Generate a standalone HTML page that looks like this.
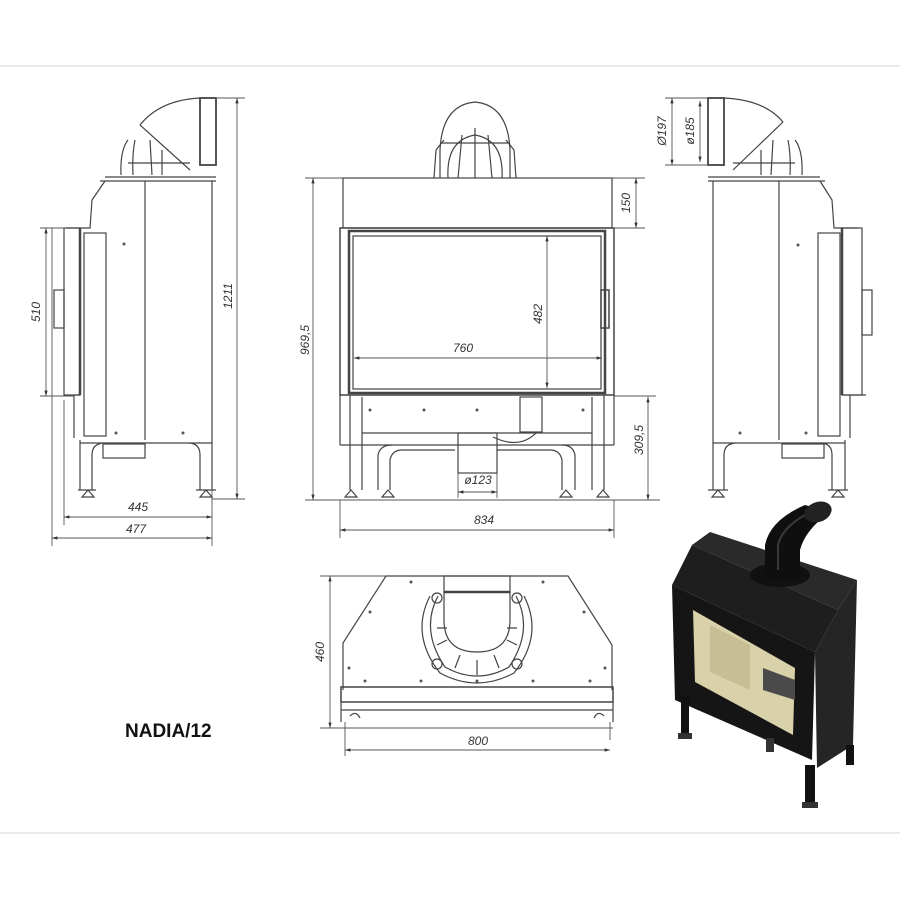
<!DOCTYPE html>
<html><head><meta charset="utf-8"><style>
html,body{margin:0;padding:0;background:#fff;}
svg{display:block;}
text{font-family:"Liberation Sans",sans-serif;font-style:italic;font-size:12px;fill:#333;}
</style></head><body>
<svg width="900" height="900" viewBox="0 0 900 900" xmlns="http://www.w3.org/2000/svg">
<defs>
<marker id="a" viewBox="0 0 10 10" refX="10" refY="5" markerWidth="6" markerHeight="6" orient="auto-start-reverse"><path d="M0,2 L10,5 L0,8z" fill="#333"/></marker>
</defs>
<line x1="0" y1="66" x2="900" y2="66" stroke="#e4e4e4" stroke-width="1.5"/>
<line x1="0" y1="833" x2="900" y2="833" stroke="#e4e4e4" stroke-width="1.5"/>

<g fill="none" stroke="#444" stroke-width="1.2">
<!-- LEFT SIDE VIEW -->
<rect x="200" y="98" width="16" height="67" stroke-width="1.8"/>
<path d="M200,98 Q160,100 140,125"/>
<path d="M140,125 L190,170 M128,140 Q120,150 121,175 M135,140 Q132,155 133,175 M150,140 L152,175 M162,150 L162,175 M128,163 L190,163"/>
<path d="M105,177 L216,177 M100,181 L216,181"/>
<path d="M105,181 L92,200 L90,228 L66,228"/>
<path d="M212,181 L212,490 M145,181 L145,440"/>
<rect x="64" y="228" width="16" height="167"/>
<line x1="80" y1="228" x2="80" y2="395" stroke-width="2.5"/>
<rect x="84" y="233" width="22" height="203"/>
<rect x="54" y="290" width="10" height="38"/>
<path d="M74,395 L74,438 M74,395 L80,395"/>
<path d="M80,440 L80,490 M80,443 L212,443 M92,490 L92,455 Q92,443 105,443 M200,490 L200,455 Q200,443 188,443"/>
<rect x="103" y="444" width="42" height="14"/>
<path d="M78,490 L96,490 M196,490 L216,490 M82,497 L94,497 L88,490z M200,497 L212,497 L206,490z"/>
<g stroke="#555" stroke-width="0.9">
<line x1="237" y1="98" x2="237" y2="499" marker-start="url(#a)" marker-end="url(#a)"/>
<line x1="216" y1="98" x2="245" y2="98"/><line x1="212" y1="499" x2="245" y2="499"/>
<line x1="46" y1="228" x2="46" y2="396" marker-start="url(#a)" marker-end="url(#a)"/>
<line x1="40" y1="228" x2="66" y2="228"/><line x1="40" y1="396" x2="74" y2="396"/>
<line x1="64" y1="517" x2="212" y2="517" marker-start="url(#a)" marker-end="url(#a)"/>
<line x1="52" y1="538" x2="212" y2="538" marker-start="url(#a)" marker-end="url(#a)"/>
<line x1="64" y1="400" x2="64" y2="525"/><line x1="52" y1="228" x2="52" y2="546"/><line x1="212" y1="490" x2="212" y2="546"/>
</g>

<!-- FRONT VIEW -->
<path d="M440,178 L440,150 Q442,105 475,102 Q508,105 510,150 L510,178"/>
<path d="M434,178 L436,150 L444,140 M516,178 L514,150 L506,140 M448,178 Q446,140 475,135 Q504,140 502,178 M458,178 L462,135 M475,178 L475,128 M492,178 L488,135 M442,143 L508,143"/>
<rect x="343" y="178" width="269" height="50"/>
<rect x="340" y="228" width="274" height="167" stroke-width="1.5"/>
<rect x="349" y="231" width="256" height="162" stroke-width="2.5"/>
<rect x="353" y="236" width="248" height="153"/>
<rect x="601" y="290" width="8" height="38" stroke-width="1.5"/>
<path d="M340,395 L340,445 M614,395 L614,445 M362,397 L362,433 L592,433 L592,397 M340,445 L614,445"/>
<path d="M350,395 L350,490 M362,433 L362,490 M592,433 L592,490 M604,395 L604,490"/>
<path d="M378,490 L378,455 Q380,445 392,445 M575,490 L575,455 Q573,445 562,445 M390,490 L390,460 Q392,450 402,450 L455,450 M562,490 L562,460 Q560,450 550,450 L497,450"/>
<rect x="458" y="433" width="39" height="40"/>
<rect x="520" y="397" width="22" height="35"/>
<path d="M493,437 Q520,450 537,432"/>
<path d="M345,497 L357,497 L351,490z M382,497 L394,497 L388,490z M560,497 L572,497 L566,490z M597,497 L609,497 L603,490z"/>
<g stroke="#555" stroke-width="0.9">
<line x1="313" y1="178" x2="313" y2="500" marker-start="url(#a)" marker-end="url(#a)"/>
<line x1="305" y1="178" x2="343" y2="178"/><line x1="305" y1="500" x2="660" y2="500"/>
<line x1="636" y1="178" x2="636" y2="228" marker-start="url(#a)" marker-end="url(#a)"/>
<line x1="612" y1="178" x2="645" y2="178"/><line x1="614" y1="228" x2="645" y2="228"/>
<line x1="547" y1="236" x2="547" y2="388" marker-start="url(#a)" marker-end="url(#a)"/>
<line x1="354" y1="358" x2="602" y2="358" marker-start="url(#a)" marker-end="url(#a)"/>
<line x1="648" y1="397" x2="648" y2="500" marker-start="url(#a)" marker-end="url(#a)"/>
<line x1="614" y1="396" x2="656" y2="396"/>
<line x1="458" y1="492" x2="497" y2="492" marker-start="url(#a)" marker-end="url(#a)"/>
<line x1="458" y1="473" x2="458" y2="498"/><line x1="497" y1="473" x2="497" y2="498"/>
<line x1="340" y1="530" x2="614" y2="530" marker-start="url(#a)" marker-end="url(#a)"/>
<line x1="340" y1="500" x2="340" y2="538"/><line x1="614" y1="500" x2="614" y2="538"/>
</g>

<!-- RIGHT SIDE VIEW -->
<rect x="708" y="98" width="16" height="67" stroke-width="1.8"/>
<path d="M724,98 Q765,100 783,122"/>
<path d="M783,122 L733,170 M795,140 Q803,150 802,175 M788,140 Q791,155 790,175 M773,140 L771,175 M761,150 L761,175 M733,163 L795,163"/>
<path d="M708,177 L820,177 M708,181 L825,181"/>
<path d="M820,181 L832,200 L834,228 L858,228"/>
<path d="M713,181 L713,490 M779,181 L779,440"/>
<rect x="842" y="228" width="20" height="167"/>
<line x1="842" y1="228" x2="842" y2="395" stroke-width="2.5"/>
<rect x="818" y="233" width="22" height="203"/>
<rect x="862" y="290" width="10" height="45"/>
<path d="M850,395 L850,438 M842,395 L866,395"/>
<path d="M845,440 L845,490 M713,443 L845,443 M724,490 L724,455 Q724,443 737,443 M832,490 L832,455 Q832,443 820,443"/>
<rect x="782" y="444" width="42" height="14"/>
<path d="M708,490 L728,490 M828,490 L848,490 M712,497 L724,497 L718,490z M832,497 L844,497 L838,490z"/>
<g stroke="#555" stroke-width="0.9">
<line x1="672" y1="98" x2="672" y2="165" marker-start="url(#a)" marker-end="url(#a)"/>
<line x1="700" y1="101" x2="700" y2="162" marker-start="url(#a)" marker-end="url(#a)"/>
<line x1="665" y1="98" x2="708" y2="98"/><line x1="665" y1="165" x2="708" y2="165"/>
</g>

<!-- TOP VIEW -->
<path d="M386,576 L568,576 L612,645 L612,690 M386,576 L343,643 L343,690"/>
<rect x="341" y="687" width="272" height="15" stroke-width="1.5"/>
<path d="M341,702 L341,722 M613,702 L613,722 M341,710 L613,710"/>
<rect x="444" y="576" width="66" height="16"/>
<line x1="444" y1="592" x2="510" y2="592" stroke-width="2.5"/>
<path d="M444,592 L444,620 Q444,652 477,652 Q510,652 510,620 L510,592"/>
<path d="M438,596 Q420,630 445,667 Q477,685 509,667 Q534,630 516,596"/>
<path d="M430,596 Q410,635 440,673 Q477,693 514,673 Q544,635 524,596"/>
<circle cx="437" cy="598" r="5"/><circle cx="517" cy="598" r="5"/><circle cx="437" cy="664" r="5"/><circle cx="517" cy="664" r="5"/>
<path d="M455,668 L460,655 M477,675 L477,660 M499,668 L494,655 M437,645 L447,640 M517,645 L507,640 M437,628 L447,628 M517,628 L507,628"/>
<path d="M350,716 Q356,710 360,718 M604,716 Q598,710 594,718"/>
<g stroke="#555" stroke-width="0.9">
<line x1="330" y1="576" x2="330" y2="728" marker-start="url(#a)" marker-end="url(#a)"/>
<line x1="320" y1="576" x2="386" y2="576"/><line x1="320" y1="728" x2="613" y2="728"/>
<line x1="345" y1="750" x2="610" y2="750" marker-start="url(#a)" marker-end="url(#a)"/>
<line x1="345" y1="722" x2="345" y2="756"/><line x1="610" y1="722" x2="610" y2="740"/>
</g>
</g>
<g fill="#555">
<circle cx="124" cy="244" r="1.5"/><circle cx="116" cy="433" r="1.5"/><circle cx="183" cy="433" r="1.5"/>
<circle cx="798" cy="245" r="1.5"/><circle cx="740" cy="433" r="1.5"/><circle cx="806" cy="433" r="1.5"/>
<circle cx="370" cy="410" r="1.5"/><circle cx="424" cy="410" r="1.5"/><circle cx="477" cy="410" r="1.5"/><circle cx="583" cy="410" r="1.5"/>
<circle cx="411" cy="582" r="1.5"/><circle cx="543" cy="582" r="1.5"/><circle cx="370" cy="612" r="1.5"/><circle cx="584" cy="612" r="1.5"/>
<circle cx="349" cy="668" r="1.5"/><circle cx="605" cy="668" r="1.5"/><circle cx="365" cy="681" r="1.5"/><circle cx="421" cy="681" r="1.5"/><circle cx="477" cy="681" r="1.5"/><circle cx="533" cy="681" r="1.5"/><circle cx="590" cy="681" r="1.5"/>
</g>

<text transform="translate(232,296) rotate(-90)" text-anchor="middle">1211</text>
<text transform="translate(40,312) rotate(-90)" text-anchor="middle">510</text>
<text x="138" y="511" text-anchor="middle">445</text>
<text x="136" y="533" text-anchor="middle">477</text>
<text transform="translate(309,340) rotate(-90)" text-anchor="middle">969,5</text>
<text transform="translate(630,203) rotate(-90)" text-anchor="middle">150</text>
<text transform="translate(542,314) rotate(-90)" text-anchor="middle">482</text>
<text x="463" y="352" text-anchor="middle">760</text>
<text transform="translate(643,440) rotate(-90)" text-anchor="middle">309,5</text>
<text x="478" y="484" text-anchor="middle">ø123</text>
<text x="484" y="524" text-anchor="middle">834</text>
<text transform="translate(666,131) rotate(-90)" text-anchor="middle">Ø197</text>
<text transform="translate(694,131) rotate(-90)" text-anchor="middle">ø185</text>
<text transform="translate(324,652) rotate(-90)" text-anchor="middle">460</text>
<text x="478" y="745" text-anchor="middle">800</text>
<text x="125" y="737" style="font-style:normal;font-weight:bold;font-size:19px;fill:#111">NADIA/12</text>

<!-- 3D RENDER -->
<g>
<polygon points="692,545 710,532 857,580 838,610" fill="#2a2a2a"/>
<polygon points="692,545 838,610 815,652 672,585" fill="#1e1e1e"/>
<polygon points="838,610 857,580 853,745 817,768 815,652" fill="#252525"/>
<polygon points="672,585 815,652 812,760 675,700" fill="#151515"/>
<polygon points="693,610 795,668 793,735 695,682" fill="#d9d1a9"/>
<polygon points="710,625 750,645 750,690 710,672" fill="#c8be95"/>
<polygon points="763,668 795,680 795,700 763,690" fill="#4a4a4a"/>
<ellipse cx="780" cy="575" rx="30" ry="12" fill="#111"/>
<path d="M765,578 L765,545 Q770,520 805,505 L830,512 Q805,530 800,550 L800,580z" fill="#0f0f0f"/>
<path d="M778,570 L778,545 Q782,528 805,515" stroke="#3a3a3a" stroke-width="2" fill="none"/>
<ellipse cx="818" cy="512" rx="14" ry="10" fill="#222" transform="rotate(-20 818 512)"/>
<rect x="681" y="695" width="8" height="40" fill="#111"/>
<rect x="678" y="733" width="14" height="6" fill="#333"/>
<rect x="805" y="765" width="10" height="40" fill="#111"/>
<rect x="802" y="802" width="16" height="6" fill="#333"/>
<rect x="846" y="745" width="8" height="20" fill="#111"/>
<rect x="766" y="738" width="8" height="14" fill="#333"/>
</g>
</svg>
</body></html>
